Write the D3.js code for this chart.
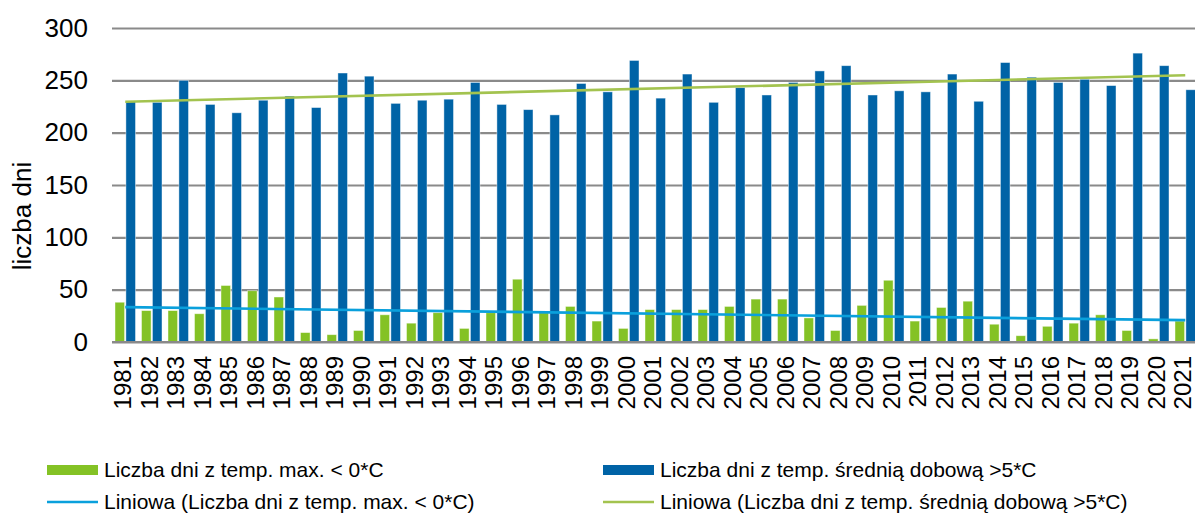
<!DOCTYPE html>
<html>
<head>
<meta charset="utf-8">
<script src="https://cdn.jsdelivr.net/npm/d3@7"></script>
<style>
  html, body { margin: 0; padding: 0; background: #fff; }
  svg { display: block; font-family: Arial, "Liberation Sans", sans-serif; }
</style>
</head>
<body>
<svg id="chart" width="1195" height="516"></svg>
<script>
const years = d3.range(1981, 2022).map(String);
const frostDays = [38,30,30,27,54,49,43,9,7,11,
                   26,18,28,13,28,60,28,34,20,13,
                   31,31,31,34,41,41,23,11,35,59,
                   20,33,39,17,6,15,18,26,11,3,20];
const warmDays  = [230,229,250,227,219,231,235,224,257,254,
                   228,231,232,248,227,222,217,247,239,269,
                   233,256,229,243,236,248,259,264,236,240,
                   239,256,230,267,253,248,251,245,276,264,241];
const yTicks = [0,50,100,150,200,250,300];
const seriesNames = ["Liczba dni z temp. max. < 0*C", "Liczba dni z temp. średnią dobową >5*C"];
const trendNames = ["Liniowa (Liczba dni z temp. max. < 0*C)", "Liniowa (Liczba dni z temp. średnią dobową >5*C)"];
const yTitle = "liczba dni";

const colGreen = "#84c225", colBlue = "#0063a6";
const colTrendBlue = "#0aa0dc", colTrendGreen = "#a3c34f";

const svg = d3.select("#chart");
const plotLeft = 112, plotRight = 1198.5, plotTop = 28, plotBottom = 342;

const x0 = d3.scaleBand().domain(years).range([plotLeft, plotRight]).paddingInner(0.226).paddingOuter(0.113);
const x1 = d3.scaleBand().domain(["frost","warm"]).range([0, x0.bandwidth()]).paddingInner(0.12);
const y = d3.scaleLinear().domain([0,300]).range([plotBottom, plotTop]);

// gridlines
const yAxis = d3.axisLeft(y).tickValues(yTicks).tickSize(-(1195 - plotLeft)).tickPadding(24);
const gy = svg.append("g").attr("transform", `translate(${plotLeft},0)`).call(yAxis);
gy.select(".domain").remove();
gy.selectAll(".tick line").attr("stroke", "#8a8a8a").attr("stroke-width", 2.2);
gy.selectAll(".tick text").attr("font-size", 26).attr("fill", "#000")
  .attr("font-family", "Arial, 'Liberation Sans', sans-serif").attr("x", -24);

// bars
const g = svg.append("g");
years.forEach((yr, i) => {
  g.append("rect")
    .attr("x", x0(yr) + x1("frost")).attr("width", x1.bandwidth())
    .attr("y", y(frostDays[i])).attr("height", y(0) - y(frostDays[i]))
    .attr("fill", colGreen).attr("stroke", "rgba(255,255,255,0.55)").attr("stroke-width", 0.8);
  g.append("rect")
    .attr("x", x0(yr) + x1("warm")).attr("width", x1.bandwidth())
    .attr("y", y(warmDays[i])).attr("height", y(0) - y(warmDays[i]))
    .attr("fill", colBlue).attr("stroke", "rgba(255,255,255,0.55)").attr("stroke-width", 0.8);
});

// trend lines (linear regression, as Excel's "Liniowa")
function regress(vals) {
  const n = vals.length, xs = d3.range(1, n + 1);
  const mx = d3.mean(xs), my = d3.mean(vals);
  let sxy = 0, sxx = 0;
  xs.forEach((xv, i) => { sxy += (xv - mx) * (vals[i] - my); sxx += (xv - mx) * (xv - mx); });
  const b = sxy / sxx, a = my - b * mx;
  return [a + b * 1, a + b * n];
}
const cx = yr => x0(yr) + x0.bandwidth() / 2;
const tf = regress(frostDays), tw = regress(warmDays);
const line = d3.line().x(d => cx(d[0])).y(d => y(d[1]));
svg.append("path").attr("d", line([[years[0], tf[0]], [years[years.length-1], tf[1]]]))
  .attr("stroke", colTrendBlue).attr("stroke-width", 2.6).attr("fill", "none");
svg.append("path").attr("d", line([[years[0], tw[0]], [years[years.length-1], tw[1]]]))
  .attr("stroke", colTrendGreen).attr("stroke-width", 2.6).attr("fill", "none");

// x axis line
svg.append("line").attr("x1", plotLeft).attr("x2", 1195).attr("y1", plotBottom).attr("y2", plotBottom)
  .attr("stroke", "#8a8a8a").attr("stroke-width", 2.2);

// x labels
svg.append("g").selectAll("text").data(years).join("text")
  .attr("transform", d => `translate(${cx(d) - 2.5},356) rotate(-90)`)
  .attr("text-anchor", "end").attr("dy", "0.35em")
  .attr("font-size", 24).attr("fill", "#000").text(d => d);

// y title
svg.append("text").attr("transform", "translate(22,216) rotate(-90)")
  .attr("text-anchor", "middle").attr("dy", "0.35em")
  .attr("font-size", 26).attr("fill", "#000").text(yTitle);

// legend
const leg = svg.append("g").attr("font-size", 21).attr("fill", "#000");
const legItems = [
  {x: 47, y: 470, type: "rect", color: colGreen, text: seriesNames[0]},
  {x: 603, y: 470, type: "rect", color: colBlue, text: seriesNames[1]},
  {x: 47, y: 502, type: "line", color: colTrendBlue, text: trendNames[0]},
  {x: 603, y: 502, type: "line", color: colTrendGreen, text: trendNames[1]}
];
legItems.forEach(it => {
  if (it.type === "rect") {
    leg.append("rect").attr("x", it.x).attr("y", it.y - 5).attr("width", 51).attr("height", 10).attr("fill", it.color);
  } else {
    leg.append("line").attr("x1", it.x).attr("x2", it.x + 51).attr("y1", it.y).attr("y2", it.y)
      .attr("stroke", it.color).attr("stroke-width", 2.6);
  }
  leg.append("text").attr("x", it.x + 57).attr("y", it.y).attr("dy", "0.35em").text(it.text);
});
</script>
</body>
</html>
